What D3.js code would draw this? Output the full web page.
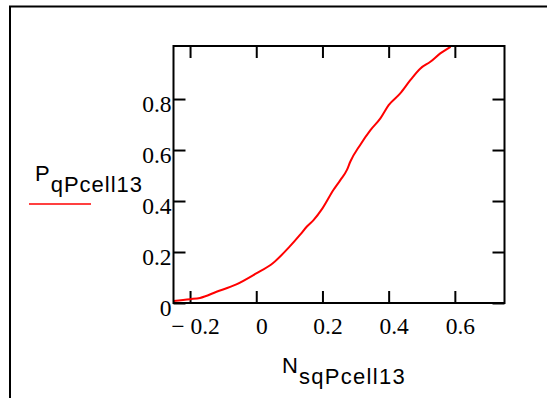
<!DOCTYPE html>
<html><head><meta charset="utf-8">
<script src="https://cdn.jsdelivr.net/npm/d3@7"></script>
<style>body{margin:0;background:#fff}svg{display:block}</style>
</head><body>
<script>
const xValues = [-0.25, -0.2, -0.17, -0.12, -0.06, 0, 0.05, 0.10, 0.132, 0.153, 0.173, 0.2, 0.233, 0.254, 0.274, 0.284, 0.314, 0.345, 0.375, 0.4, 0.435, 0.466, 0.496, 0.526, 0.556, 0.587];
const yValues = [0.008, 0.015, 0.02, 0.044, 0.073, 0.116, 0.156, 0.22, 0.267, 0.30, 0.325, 0.371, 0.443, 0.482, 0.522, 0.554, 0.62, 0.678, 0.724, 0.776, 0.822, 0.875, 0.92, 0.946, 0.979, 1.005];
const xTicks = [-0.2, 0, 0.2, 0.4, 0.6];
const yTicks = [0, 0.2, 0.4, 0.6, 0.8];
const xDomain = [-0.25, 0.75];
const yDomain = [0, 1.008];
const legendMain = "P", legendSub = "qPcell13";
const xLabelMain = "N", xLabelSub = "sqPcell13";

const W = 547, H = 398;
const L = 173.5, R = 504.5, T = 46, B = 303;
const svg = d3.select("body").append("svg").attr("width", W).attr("height", H);

// outer frame (top + left)
svg.append("path").attr("d", `M10,${H} V6.5 H${W}`).attr("fill", "none").attr("stroke", "#000").attr("stroke-width", 2);

const x = d3.scaleLinear().domain(xDomain).range([L, R]);
const y = d3.scaleLinear().domain(yDomain).range([B, T]);

const fmt = v => v < 0 ? "\u2212 " + d3.format("")(Math.abs(v)) : d3.format("")(v);
const serif = "'Liberation Serif','Times New Roman',serif";

const gx = svg.append("g").attr("transform", `translate(0,${B})`)
  .call(d3.axisBottom(x).tickValues(xTicks).tickSize(-12).tickPadding(14).tickFormat(fmt));
gx.selectAll("text").attr("dx", 5);
svg.append("g").attr("transform", `translate(0,${T})`)
  .call(d3.axisTop(x).tickValues(xTicks).tickSize(-12).tickFormat(""));
const gy = svg.append("g").attr("transform", `translate(${L},0)`)
  .call(d3.axisLeft(y).tickValues(yTicks).tickSize(-12).tickPadding(2).tickFormat(d3.format("")));
gy.selectAll("text").attr("dy", "0.55em");
svg.append("g").attr("transform", `translate(${R},0)`)
  .call(d3.axisRight(y).tickValues(yTicks).tickSize(-12).tickFormat(""));

svg.selectAll(".domain").remove();
svg.selectAll(".tick line").attr("stroke", "#000").attr("stroke-width", 2);
svg.selectAll(".tick text").attr("font-family", serif).attr("font-size", 23.5).attr("fill", "#000");

// curve
const pts = xValues.map((v, i) => [v, yValues[i]]);
svg.append("path").datum(pts)
  .attr("fill", "none").attr("stroke", "#ff0000").attr("stroke-width", 2)
  .attr("d", d3.line().curve(d3.curveMonotoneX).x(d => x(d[0])).y(d => Math.max(T, y(d[1]))));

// frame
svg.append("rect").attr("x", L).attr("y", T).attr("width", R - L).attr("height", B - T)
  .attr("fill", "none").attr("stroke", "#000").attr("stroke-width", 2);

const sans = "'Liberation Sans',Arial,sans-serif";
// legend
const lt = svg.append("text").attr("x", 35).attr("y", 181).attr("font-family", sans).attr("font-size", 22).attr("fill", "#000");
lt.append("tspan").text(legendMain);
lt.append("tspan").attr("dy", 11).attr("dx", 1).attr("letter-spacing", 1).text(legendSub);
svg.append("line").attr("x1", 29).attr("x2", 91).attr("y1", 204).attr("y2", 204)
  .attr("stroke", "#ff0000").attr("stroke-width", 1.5);

// x label
const xt = svg.append("text").attr("x", 282).attr("y", 373).attr("font-family", sans).attr("font-size", 22).attr("fill", "#000");
xt.append("tspan").text(xLabelMain);
xt.append("tspan").attr("dy", 11).attr("dx", 1).attr("letter-spacing", 1.3).text(xLabelSub);
</script>
</body></html>
